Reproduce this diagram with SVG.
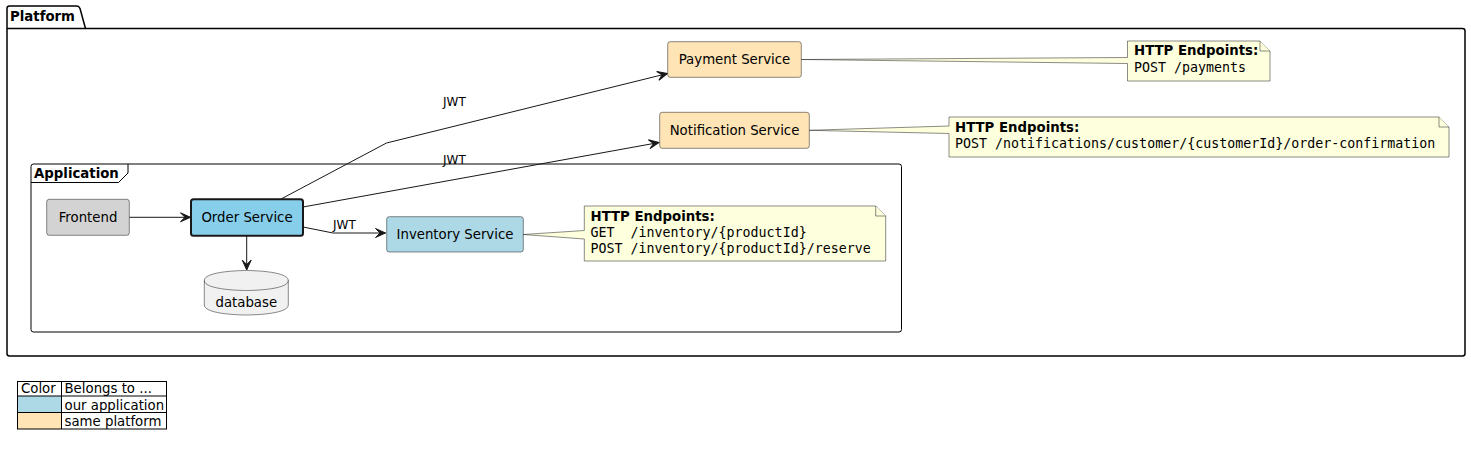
<svg xmlns="http://www.w3.org/2000/svg" width="1471" height="455" viewBox="0 0 1471 455">
<style>
  .sans { font-family: "DejaVu Sans", "Liberation Sans", sans-serif; font-size: 13.3px; fill: #000; }
  .bold { font-family: "DejaVu Sans", "Liberation Sans", sans-serif; font-size: 13.3px; font-weight: bold; fill: #000; }
  .mono { font-family: "DejaVu Sans Mono", "Liberation Mono", monospace; font-size: 13.3px; fill: #000; white-space: pre; }
  .lbl { font-family: "DejaVu Sans", "Liberation Sans", sans-serif; font-size: 12px; fill: #000; }
  .node { stroke: #181818; stroke-width: 0.5; }
  .note { fill: #FEFFDD; stroke: #181818; stroke-width: 0.5; }
  .conn { fill: none; stroke: #181818; stroke-width: 1; marker-end: url(#arr); }
  .frame { fill: none; stroke: #000; }
  .mid { text-anchor: middle; }
</style>
<defs>
  <marker id="arr" viewBox="-12 -6 14 12" refX="0" refY="0" markerWidth="14" markerHeight="12" orient="auto" markerUnits="userSpaceOnUse">
    <path d="M0,0 L-10,-4.5 L-5.5,0 L-10,4.5 Z" fill="#181818" stroke="#181818" stroke-width="1"/>
  </marker>
</defs>
<rect width="1471" height="455" fill="#FFFFFF"/>

<g id="platform">
  <path class="frame" stroke-width="1.5" d="M7,8.5 Q7,6 9.5,6 L77,6 Q79,6 80,8.5 L85.5,28.5 L1462.5,28.5 Q1465,28.5 1465,31 L1465,353.5 Q1465,356 1462.5,356 L9.5,356 Q7,356 7,353.5 Z"/>
  <line x1="7" y1="28.5" x2="85.5" y2="28.5" stroke="#000" stroke-width="1.5"/>
  <text class="bold" x="10" y="21">Platform</text>
</g>

<g id="application">
  <rect class="frame" x="31" y="164" width="870.5" height="168" rx="2.5" stroke-width="1"/>
  <path class="frame" stroke-width="1" d="M31,182.5 L118.5,182.5 L128,173 L128,164"/>
  <text class="bold" x="34" y="178">Application</text>
</g>

<g id="connectors">
  <path class="conn" d="M129.3,217.3 L190.5,217.3"/>
  <path class="conn" d="M246.7,236 L246.7,270"/>
  <path class="conn" d="M303,227 L333,233 L385.5,233"/>
  <path class="conn" d="M281,199 L386.5,143 L667.5,73.5"/>
  <path class="conn" d="M303,207 L659,142.5"/>
  <text class="lbl" x="333" y="229">JWT</text>
  <text class="lbl" x="443" y="106">JWT</text>
  <text class="lbl" x="443" y="164">JWT</text>
</g>

<g id="frontend">
  <rect class="node" x="46.7" y="199.3" width="82.6" height="36" rx="2.5" fill="#D3D3D3"/>
  <text class="sans mid" x="88" y="222">Frontend</text>
</g>

<g id="order-service">
  <rect x="191" y="199.3" width="112" height="36.5" rx="2.5" fill="#87CEEB" stroke="#181818" stroke-width="2"/>
  <text class="sans mid" x="247" y="222">Order Service</text>
</g>

<g id="inventory-service">
  <rect class="node" x="386.7" y="216.7" width="136.6" height="35.3" rx="2.5" fill="#ADD8E6"/>
  <text class="sans mid" x="455" y="239">Inventory Service</text>
</g>

<g id="database">
  <path class="node" fill="#F1F1F1" d="M204.3,280.5 C204.3,270.5 246.3,270.5 246.3,270.5 C246.3,270.5 288.3,270.5 288.3,280.5 L288.3,305 C288.3,315 246.3,315 246.3,315 C246.3,315 204.3,315 204.3,305 Z"/>
  <path class="node" fill="none" d="M204.3,280.5 C204.3,290.5 246.3,290.5 246.3,290.5 C246.3,290.5 288.3,290.5 288.3,280.5"/>
  <text class="sans mid" x="246.3" y="307">database</text>
</g>

<g id="payment-service">
  <rect class="node" x="667.7" y="41.7" width="133.6" height="35.6" rx="2.5" fill="#FFE4B5"/>
  <text class="sans mid" x="734.5" y="64">Payment Service</text>
</g>

<g id="notification-service">
  <rect class="node" x="659.7" y="112.3" width="149.6" height="36" rx="2.5" fill="#FFE4B5"/>
  <text class="sans mid" x="734.5" y="135">Notification Service</text>
</g>

<g id="payment-note">
  <path class="note" d="M1127.5,41 L1127.5,57.5 L801.3,59.5 L1127.5,63.5 L1127.5,81 L1270,81 L1270,51 L1260,41 Z"/>
  <path class="note" d="M1260,41 L1260,51 L1270,51"/>
  <text class="bold" x="1134" y="55">HTTP Endpoints:</text>
  <text class="mono" x="1134" y="72">POST /payments</text>
</g>

<g id="notification-note">
  <path class="note" d="M949,117 L949,126 L809.3,130.3 L949,133.5 L949,157 L1449,157 L1449,127 L1439,117 Z"/>
  <path class="note" d="M1439,117 L1439,127 L1449,127"/>
  <text class="bold" x="955" y="132">HTTP Endpoints:</text>
  <text class="mono" x="955" y="148">POST /notifications/customer/{customerId}/order-confirmation</text>
</g>

<g id="inventory-note">
  <path class="note" d="M584.3,206 L584.3,230.5 L523.3,234.5 L584.3,239 L584.3,261 L885.7,261 L885.7,216 L875.7,206 Z"/>
  <path class="note" d="M875.7,206 L875.7,216 L885.7,216"/>
  <text class="bold" x="590.5" y="221">HTTP Endpoints:</text>
  <text class="mono" x="590.5" y="237">GET  /inventory/{productId}</text>
  <text class="mono" x="590.5" y="253">POST /inventory/{productId}/reserve</text>
</g>

<g id="legend">
  <rect x="17.5" y="396" width="44" height="16.5" fill="#ADD8E6"/>
  <rect x="17.5" y="412.5" width="44" height="16.5" fill="#FFE4B5"/>
  <rect x="17.5" y="381.5" width="149" height="47.5" fill="none" stroke="#000" stroke-width="1"/>
  <line x1="61.5" y1="381.5" x2="61.5" y2="429" stroke="#000"/>
  <line x1="17.5" y1="396" x2="166.5" y2="396" stroke="#000"/>
  <line x1="17.5" y1="412.5" x2="166.5" y2="412.5" stroke="#000"/>
  <text class="sans" x="21" y="393">Color</text>
  <text class="sans" x="64.5" y="393">Belongs to ...</text>
  <text class="sans" x="64.5" y="409.5">our application</text>
  <text class="sans" x="64.5" y="426">same platform</text>
</g>
</svg>
